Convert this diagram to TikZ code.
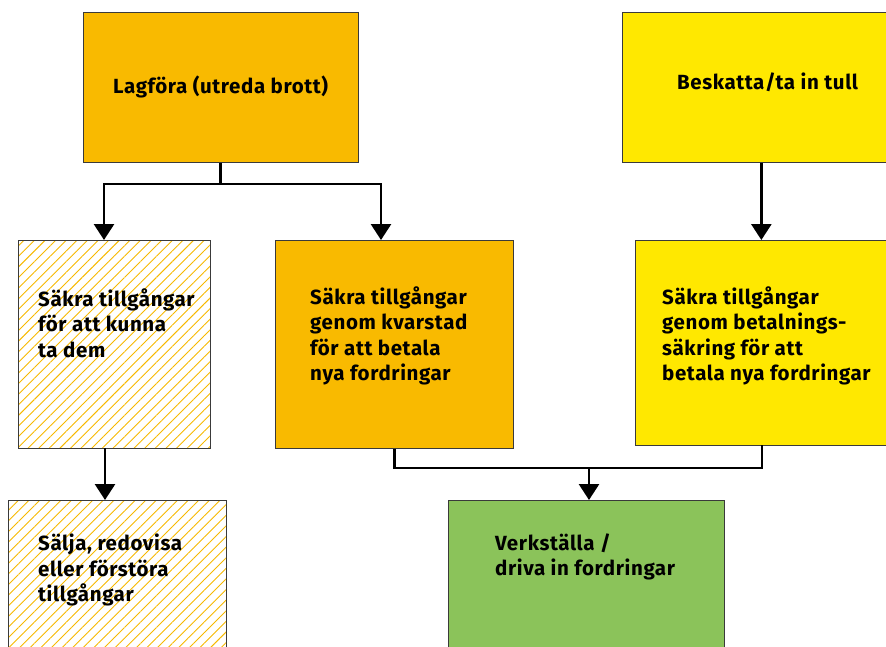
\documentclass[tikz,border=0pt]{standalone}
\usepackage{fontspec}
\setmainfont{Fira Sans}[LetterSpace=3]
\usetikzlibrary{arrows.meta,patterns.meta}

\definecolor{lagOrange}{HTML}{F9BA00}
\definecolor{skattGul}{HTML}{FFE800}
\definecolor{verkGron}{HTML}{8BC35A}
\definecolor{streck}{HTML}{F6B800}
\definecolor{kant}{HTML}{3A3A3A}

\tikzset{
  ruta/.style={draw=kant, line width=0.7pt, rectangle, inner sep=0pt, anchor=north west},
  orangeruta/.style={ruta, fill=lagOrange},
  gulruta/.style={ruta, fill=skattGul},
  gronruta/.style={ruta, fill=verkGron},
  streckruta/.style={ruta, fill=white,
    pattern={Lines[angle=45, distance=7.5pt, line width=0.9pt]}, pattern color=streck},
  rutatext/.style={anchor=west, align=left, inner sep=0pt,
    font=\bfseries\fontsize{20.5}{25.3}\selectfont},
  pil/.style={line width=2.8pt, -{Triangle[width=20pt, length=16pt]}},
  linje/.style={line width=2.8pt}
}

\begin{document}
\begin{tikzpicture}[x=1pt, y=-1pt]
    % Ramen (hogra och nedre kanten skars av)
    \useasboundingbox (0,0) rectangle (886,646);
    \clip (0,0) rectangle (886,646);

    % Rutorna
    \node[orangeruta, minimum width=275pt, minimum height=150pt] (lagfora) at (83,12) {};
    \node[gulruta, minimum width=278pt, minimum height=150pt] (beskatta) at (622,12) {};
    \node[streckruta, minimum width=192pt, minimum height=208pt] (sakraTa) at (18,240) {};
    \node[orangeruta, minimum width=238pt, minimum height=208pt] (kvarstad) at (275,240) {};
    \node[gulruta, minimum width=265pt, minimum height=205pt] (betalning) at (635,240) {};
    \node[streckruta, minimum width=218pt, minimum height=170pt] (salja) at (8,500) {};
    \node[gronruta, minimum width=276pt, minimum height=170pt] (verkstalla) at (448,500) {};

    % Texterna
    \node[rutatext] (lagforaText) at (113,87) {Lagföra (utreda brott)};
    \node[rutatext] (beskattaText) at (677,82) {Beskatta/ta in tull};
    \node[rutatext] (sakraTaText) at (38,323) {Säkra tillgångar\\för att kunna\\ta dem};
    \node[rutatext] (kvarstadText) at (310,336) {Säkra tillgångar\\genom kvarstad\\för att betala\\nya fordringar};
    \node[rutatext] (betalningText) at (662,336) {Säkra tillgångar\\genom betalnings-\\säkring för att\\betala nya fordringar};
    \node[rutatext] (saljaText) at (38,570) {Sälja, redovisa\\eller förstöra\\tillgångar};
    \node[rutatext] (verkstallaText) at (495,557) {Verkställa /\\driva in fordringar};

    % Hjalppunkter for pilarna
    \coordinate (delning) at (lagfora.south |- 0,184);
    \coordinate (tillTa) at (104,240);
    \coordinate (tillKvarstad) at (381,240);
    \coordinate (franTa) at (105,448);
    \coordinate (franBetalning) at (762,445);
    \coordinate (samling) at (589,468);

    % Pilarna
    \draw[linje] (lagfora.south) -- (delning);
    \draw[pil] (delning) -| (tillTa);
    \draw[pil] (delning) -| (tillKvarstad);
    \draw[pil] (beskatta.south) -- (beskatta.south |- betalning.north);
    \draw[pil] (franTa) -- (franTa |- salja.north);
    \draw[linje] (kvarstad.south) |- (samling) -| (franBetalning);
    \draw[pil] (samling) -- (samling |- verkstalla.north);
\end{tikzpicture}
\end{document}
